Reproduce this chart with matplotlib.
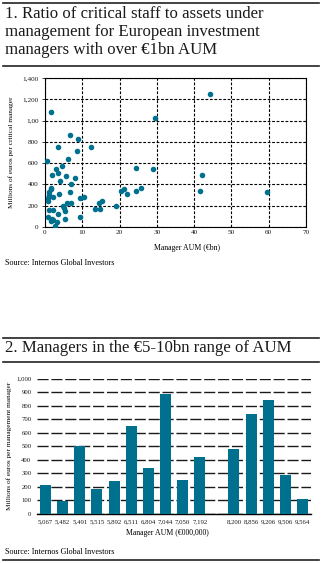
import matplotlib
matplotlib.use("Agg")
import matplotlib.pyplot as plt
from matplotlib.lines import Line2D

plt.rcParams['font.family'] = ['Liberation Serif', 'DejaVu Serif']

W, H = 322, 563
TEAL = '#00708f'

# Chart 1: manager AUM (EUR bn) vs millions of euros per critical manager
aum_bn = [1.6, 29.4, 44.3, 6.6, 8.9, 3.5, 12.3, 8.7, 6.3, 0.5, 2.9, 4.5, 24.4, 29.0,
          2.0, 5.5, 3.6, 8.0, 3.9, 7.0, 25.7, 21.3, 20.4, 22.0, 24.3, 6.7, 3.7, 2.1,
          9.4, 10.5, 15.3, 14.5, 19.0, 13.3, 14.8, 5.9, 6.9, 4.8, 5.2, 5.4, 1.0, 2.2,
          3.4, 5.4, 9.5, 0.8, 1.8, 2.1, 3.3, 1.6, 2.6, 0.9, 0.8, 1.0, 1.2, 1.5, 1.7,
          42.2, 41.7, 59.5]
per_manager = [1079, 1025, 1254, 865, 824, 749, 754, 718, 636, 621, 545, 572, 551, 548,
               484, 483, 512, 465, 428, 403, 371, 360, 335, 310, 335, 325, 312, 282,
               275, 278, 245, 222, 198, 170, 170, 226, 226, 195, 175, 150, 157, 163,
               124, 75, 90, 94, 78, 70, 46, 52, 8, 240, 268, 300, 330, 355, 370,
               492, 335, 325]
y1_ticks = [0, 200, 400, 600, 800, 1000, 1200, 1400]
y1_labels = ['0', '200', '400', '600', '800', '1,00', '1,200', '1,400']
x1_ticks = [0, 10, 20, 30, 40, 50, 60, 70]

# Chart 2: managers in the EUR 5-10bn range
managers = ['5,067', '5,482', '5,491', '5,515', '5,892', '6,511', '6,804', '7,044',
            '7,050', '7,192', '', '8,200', '8,856', '9,206', '9,506', '9,564']
bar_values = [210, 90, 500, 180, 240, 650, 340, 885, 245, 420, 0, 480, 740, 840, 285, 105]
y2_ticks = list(range(0, 1001, 100))
y2_labels = ['0', '100', '200', '300', '400', '500', '600', '700', '800', '900', '1,000']


def px_axes(left, top, right, bottom):
    return fig.add_axes([left / W, 1 - bottom / H, (right - left) / W, (bottom - top) / H])


def rule(y, lw=1.2):
    fig.add_artist(Line2D([3 / W, 319 / W], [1 - y / H, 1 - y / H], color='#222222', lw=lw))


def ftext(x, y, s, **kw):
    fig.text(x / W, 1 - y / H, s, **kw)


fig = plt.figure(figsize=(W / 100, H / 100), dpi=100)

# header 1
rule(2.5)
for i, line in enumerate(['1. Ratio of critical staff to assets under',
                          'management for European investment',
                          'managers with over €1bn AUM']):
    ftext(5, 13.5 + i * 18.3, line, fontsize=12.1, color='#1a1a1a', va='center')
rule(65.5)

# scatter
ax1 = px_axes(45, 78, 306, 227)
ax1.scatter(aum_bn, per_manager, s=16, color=TEAL, zorder=3, linewidths=0)
ax1.set_xlim(0, 70)
ax1.set_ylim(0, 1400)
ax1.set_xticks(x1_ticks)
ax1.set_yticks(y1_ticks)
ax1.set_yticklabels(y1_labels)
ax1.grid(True, color='black', lw=0.8, linestyle=(0, (2.5, 1.5)))
ax1.tick_params(labelsize=5.2, length=2.5, width=0.6, pad=2, colors='#1a1a1a')
ax1.tick_params(axis='x', length=0)
for sp in ax1.spines.values():
    sp.set_linewidth(0.8)
ax1.set_ylabel('Millions of euros per critical manager', fontsize=5.2, labelpad=6)
ftext(187, 248, 'Manager AUM (€bn)', fontsize=5.6, ha='center', va='center')
ftext(5, 263, 'Source: Internos Global Investors', fontsize=5.9, va='center')

# header 2
rule(337.5)
ftext(5, 348, '2. Managers in the €5-10bn range of AUM', fontsize=12.1, color='#1a1a1a', va='center')
rule(361.5)

# bars
ax2 = px_axes(37, 378.7, 311, 513.5)
pos = list(range(len(managers)))
ax2.bar(pos, bar_values, width=0.64, color=TEAL, zorder=3)
ax2.set_xlim(-0.5, len(managers) - 0.5)
ax2.set_ylim(0, 1000)
ax2.set_yticks(y2_ticks)
ax2.set_yticklabels(y2_labels)
ax2.set_xticks(pos)
ax2.set_xticklabels(managers)
ax2.yaxis.grid(True, color='#1a1a1a', lw=1.0, linestyle=(0, (8, 2)))
ax2.set_axisbelow(True)
for side in ['left', 'right', 'top']:
    ax2.spines[side].set_visible(False)
ax2.spines['bottom'].set_linewidth(1.0)
ax2.tick_params(labelsize=4.9, length=0, pad=4, colors='#1a1a1a')
ax2.set_ylabel('Millions of euros per management manager', fontsize=5.2, labelpad=3)
ftext(167, 533, 'Manager AUM (€000,000)', fontsize=5.6, ha='center', va='center')
ftext(5, 552, 'Source: Internos Global Investors', fontsize=5.9, va='center')
rule(559.5)

fig.savefig('out.png', dpi=100)
